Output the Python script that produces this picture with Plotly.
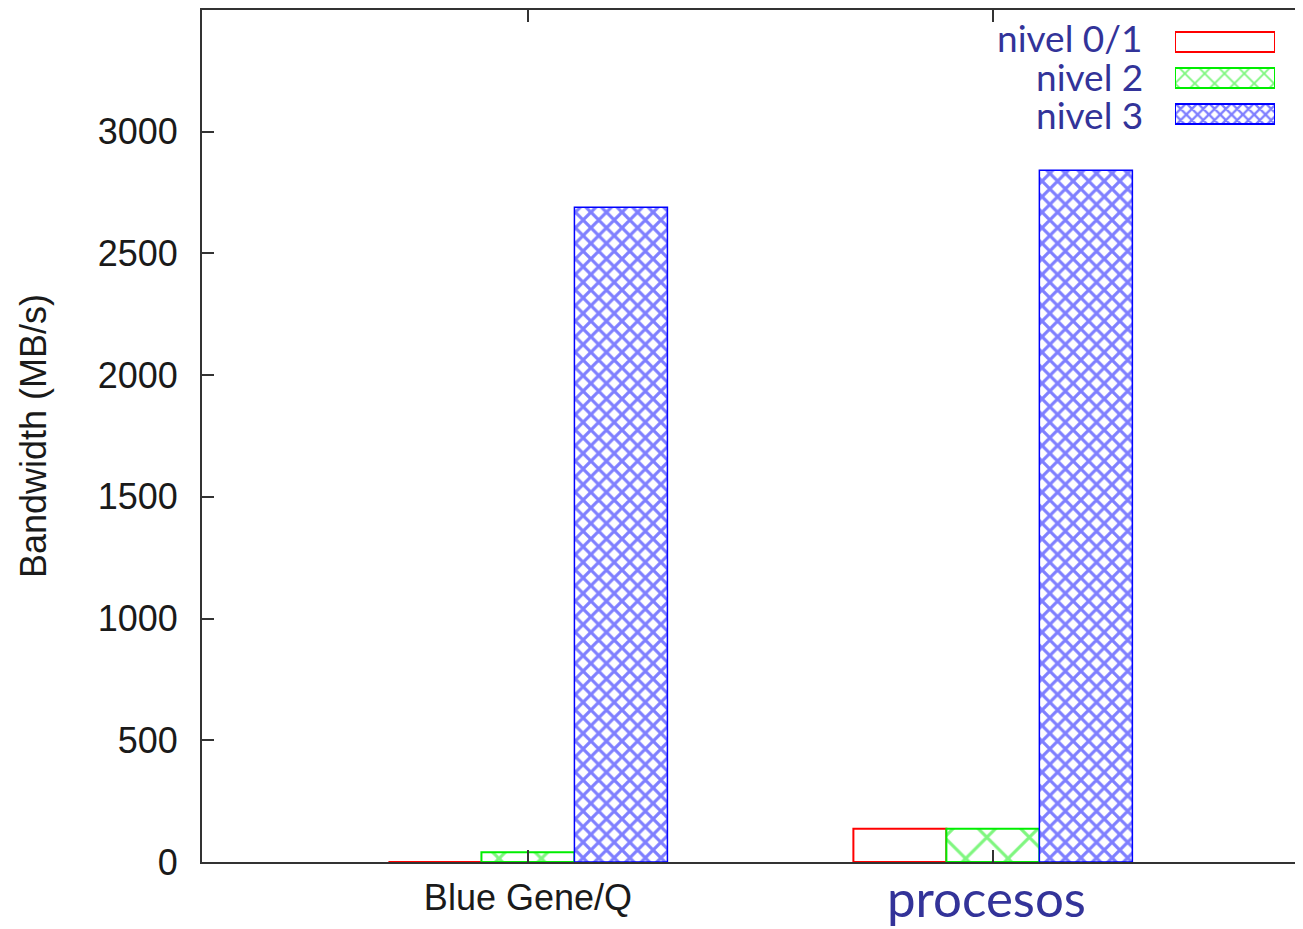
import plotly.graph_objects as go

# ---- data ----
categories = ["Blue Gene/Q", "procesos"]
series_names = ["nivel 0/1", "nivel 2", "nivel 3"]
nivel01 = [0, 137]
nivel2 = [40, 137]
nivel3 = [2690, 2842]
y_ticks = [0, 500, 1000, 1500, 2000, 2500, 3000]
y_title = "Bandwidth (MB/s)"

RED, GREEN, BLUE = "#ff0000", "#00ee00", "#0000ff"
TXT_BLUE = "#333399"
AX = "#333333"

OFF = 8  # page body margin in the browser
W, H = 1303 - OFF, 929 - OFF
ML, MR, MT, MB = 202 - OFF, 0, 10 - OFF, 67
PW, PH = W - ML - MR, H - MT - MB


def px2paper_x(px):
    return (px - OFF - ML) / PW


def px2paper_y(py):
    return (H - MB - (py - OFF)) / PH


fig = go.Figure()

styles = [
    dict(color="rgba(255,255,255,0)", line=dict(color=RED, width=2)),
    dict(color="white", line=dict(color=GREEN, width=2),
         pattern=dict(shape="x", fgcolor=GREEN, bgcolor="white", size=30, solidity=0.2)),
    dict(color="white", line=dict(color=BLUE, width=1.5),
         pattern=dict(shape="x", fgcolor=BLUE, bgcolor="white", size=11, solidity=0.5)),
]
swatch_patterns = [
    None,
    dict(shape="x", fgcolor=GREEN, bgcolor="white", size=14, solidity=0.25),
    dict(shape="x", fgcolor=BLUE, bgcolor="white", size=8, solidity=0.5),
]

for name, vals, st in zip(series_names, [nivel01, nivel2, nivel3], styles):
    fig.add_trace(go.Bar(x=categories, y=vals, name=name, marker=st,
                         showlegend=False, xaxis="x", yaxis="y"))

# legend swatches (drawn as bars on a small hidden subplot)
for name, st, pat in zip(series_names, styles, swatch_patterns):
    m = dict(color=st["color"], line=dict(color=st["line"]["color"], width=2))
    if pat:
        m["pattern"] = pat
    fig.add_trace(go.Bar(
        y=[name], x=[1], orientation="h", width=0.55, offset=-0.275,
        xaxis="x2", yaxis="y2", showlegend=False, marker=m))

annotations = []
legend_centers = [37.3, 76, 115]
for name, cy in zip(series_names, legend_centers):
    annotations.append(dict(
        text=name, x=px2paper_x(1145), y=px2paper_y(cy), xref="paper", yref="paper",
        xanchor="right", yanchor="middle", showarrow=False,
        font=dict(family="Lato, Open Sans, sans-serif", size=37, color=TXT_BLUE)))

annotations.append(dict(
    text=categories[1], x=categories[1], xref="x", y=px2paper_y(897), yref="paper",
    xanchor="center", yanchor="middle", showarrow=False, xshift=-6,
    font=dict(family="Lato, Open Sans, sans-serif", size=51, color=TXT_BLUE)))

fig.update_layout(
    width=W, height=H,
    margin=dict(l=ML, r=MR, t=MT, b=MB, pad=0),
    paper_bgcolor="white", plot_bgcolor="white",
    barmode="group", bargap=0.4, bargroupgap=0,
    font=dict(family="Liberation Sans, Arial, sans-serif", size=36, color="#1a1a1a"),
    annotations=annotations,
    xaxis=dict(
        type="category", range=[-0.701, 1.667],
        tickvals=categories, ticktext=[categories[0], ""],
        showline=True, linecolor=AX, linewidth=2, mirror="ticks",
        ticks="inside", ticklen=12, tickwidth=2, tickcolor=AX,
        showgrid=False, zeroline=False, ticklabelstandoff=3,
    ),
    yaxis=dict(
        range=[0, 3500], tickvals=y_ticks,
        showline=True, linecolor=AX, linewidth=2, mirror=False,
        ticks="inside", ticklen=12, tickwidth=2, tickcolor=AX,
        showgrid=False, zeroline=False, ticklabelstandoff=15,
        title=dict(text=y_title, standoff=40,
                   font=dict(family="Liberation Sans, Arial, sans-serif", size=36, color="#1a1a1a")),
    ),
    xaxis2=dict(domain=[px2paper_x(1175), px2paper_x(1275)], range=[0, 1],
                anchor="y2", visible=False, fixedrange=True),
    yaxis2=dict(domain=[px2paper_y(132), px2paper_y(24)], range=[2.5, -0.5],
                type="category", categoryorder="array", categoryarray=series_names,
                anchor="x2", visible=False, fixedrange=True),
)

fig.write_html("out.html")
